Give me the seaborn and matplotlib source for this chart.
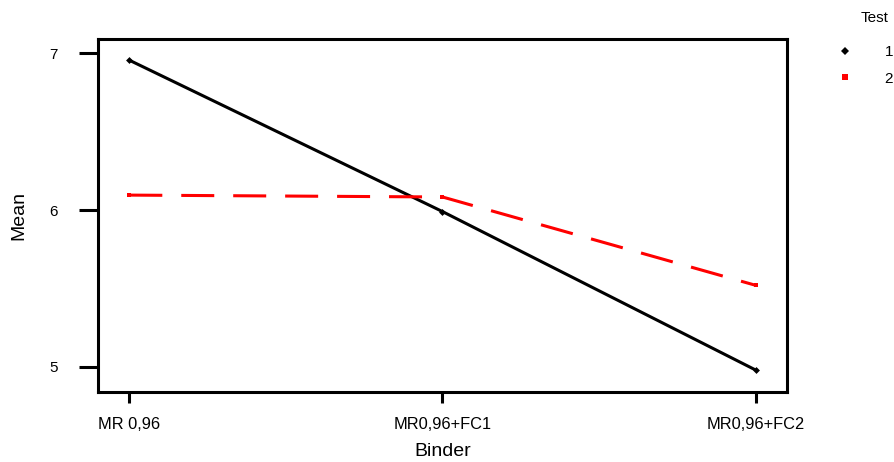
import matplotlib
matplotlib.use("Agg")
import matplotlib.pyplot as plt
import seaborn as sns
import pandas as pd
from matplotlib.lines import Line2D

binders = ["MR 0,96", "MR0,96+FC1", "MR0,96+FC2"]
test1 = [6.955, 5.99, 4.98]
test2 = [6.095, 6.083, 5.52]
tests = ["1", "2"]
colors = {"1": "#000000", "2": "#ff0000"}

df = pd.DataFrame({
    "Binder": binders * 2,
    "Mean": test1 + test2,
    "Test": [tests[0]] * 3 + [tests[1]] * 3,
})

sns.set_style("white")
plt.rcParams["font.family"] = ["Liberation Sans", "DejaVu Sans"]
plt.rcParams["text.color"] = "black"
plt.rcParams["axes.labelcolor"] = "black"
plt.rcParams["xtick.color"] = "black"
plt.rcParams["ytick.color"] = "black"

fig = plt.figure(figsize=(8.95, 4.62), dpi=100)
ax = fig.add_axes([98 / 895, 70 / 462, 689 / 895, 353 / 462])

sns.lineplot(data=df, x="Binder", y="Mean", hue="Test", style="Test",
             palette=colors, dashes={"1": "", "2": (10.8, 6.2)},
             markers={"1": "D", "2": "s"}, markersize=3.5, markeredgewidth=0,
             linewidth=2.2, legend=False, ax=ax, sort=False)

ax.set_xlim(-0.1, 2.1)
ax.set_ylim(4.84, 7.09)
ax.set_yticks([5, 6, 7])
ax.set_yticklabels(["5", "6", "7"])
ax.set_xticks([0, 1, 2])
ax.set_xticklabels(binders)

for s in ax.spines.values():
    s.set_visible(True)
    s.set_linewidth(2.2)
    s.set_color("black")

ax.tick_params(axis="y", length=14, width=2.2, direction="out", pad=15,
               labelsize=11, color="black", labelcolor="black", left=True)
ax.tick_params(axis="x", length=8, width=2.2, direction="out", pad=10,
               labelsize=11.8, color="black", labelcolor="black", bottom=True)
ax.set_xlabel("Binder", fontsize=14, labelpad=8, color="black")
ax.set_ylabel("Mean", fontsize=14, labelpad=16, color="black")
ax.grid(False)

handles = [
    Line2D([], [], linestyle="none", marker="D", markersize=4,
           markeredgewidth=0, color=colors["1"]),
    Line2D([], [], linestyle="none", marker="s", markersize=4,
           markeredgewidth=0, color=colors["2"]),
]
leg = fig.legend(handles, tests, loc="upper right",
                 bbox_to_anchor=(893 / 895, 1 - 45 / 462), frameon=False,
                 fontsize=11, handlelength=1.0,
                 handletextpad=2.1, labelspacing=0.82, borderpad=0.0,
                 borderaxespad=0.0, labelcolor="black")
fig.text(889 / 895, 1 - 18 / 462, "Test", ha="right", va="center",
         fontsize=11, color="black")

fig.savefig("out.png", dpi=100)
